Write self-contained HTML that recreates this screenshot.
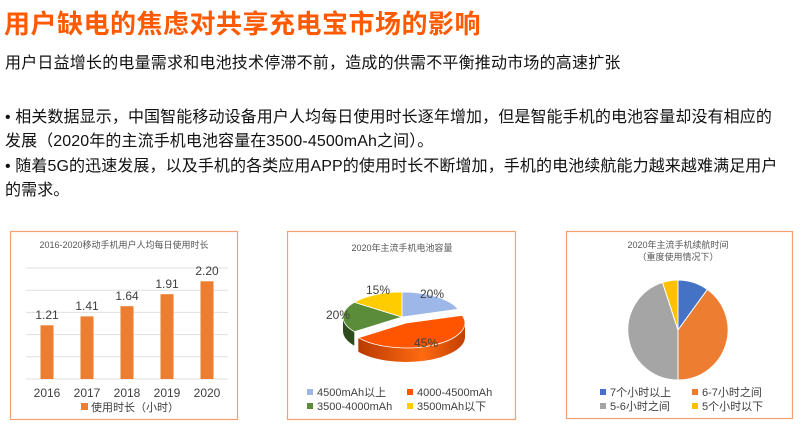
<!DOCTYPE html>
<html><head><meta charset="utf-8"><style>
body{margin:0;width:800px;height:428px;background:#fff;font-family:"Liberation Sans","Noto Sans CJK SC",sans-serif;position:relative;overflow:hidden}
.t{position:absolute;white-space:nowrap}
</style></head><body>
<div class="t" style="left:4px;top:4px;font-size:26px;font-weight:bold;color:#FF5A00;letter-spacing:0.5px">用户缺电的焦虑对共享充电宝市场的影响</div>
<div class="t" style="left:5px;top:49px;font-size:16px;color:#111;letter-spacing:0.2px">用户日益增长的电量需求和电池技术停滞不前，造成的供需不平衡推动市场的高速扩张</div>
<div class="t" style="left:5px;top:106px;font-size:16px;line-height:24.3px;color:#111;white-space:normal;width:795px;letter-spacing:0.1px">• 相关数据显示，中国智能移动设备用户人均每日使用时长逐年增加，但是智能手机的电池容量却没有相应的<br>发展（2020年的主流手机电池容量在3500-4500mAh之间）。<br>• 随着5G的迅速发展，以及手机的各类应用APP的使用时长不断增加，手机的电池续航能力越来越难满足用户<br>的需求。</div>
<svg width="800" height="428" style="position:absolute;left:0;top:0" font-family="Liberation Sans, Noto Sans CJK SC, sans-serif">
<g fill="none" stroke="#F4A070" stroke-width="1.2">
<rect x="10.5" y="231.5" width="227" height="188"/>
<rect x="287.5" y="231.5" width="228" height="188"/>
<rect x="566.5" y="231.5" width="226" height="187"/>
</g>
<text x="124" y="248" font-size="9" fill="#555" text-anchor="middle">2016-2020移动手机用户人均每日使用时长</text>
<g stroke="#e0e0e0" stroke-width="1">
<line x1="26" x2="228" y1="268" y2="268"/><line x1="26" x2="228" y1="290.2" y2="290.2"/><line x1="26" x2="228" y1="312.4" y2="312.4"/><line x1="26" x2="228" y1="334.6" y2="334.6"/><line x1="26" x2="228" y1="356.8" y2="356.8"/><line x1="26" x2="228" y1="379" y2="379"/></g>
<g fill="#ED7D31">
<rect x="40.5" y="325.3" width="13" height="53.7"/>
<rect x="80.5" y="316.4" width="13" height="62.6"/>
<rect x="120.5" y="306.2" width="13" height="72.8"/>
<rect x="160.5" y="294.2" width="13" height="84.8"/>
<rect x="200.5" y="281.3" width="13" height="97.7"/></g>
<g font-size="12" fill="#404040" text-anchor="middle">
<text x="47" y="319">1.21</text><text x="87" y="310">1.41</text><text x="127" y="300">1.64</text><text x="167" y="288">1.91</text><text x="207" y="275">2.20</text>
<text x="47" y="397">2016</text><text x="87" y="397">2017</text><text x="127" y="397">2018</text><text x="167" y="397">2019</text><text x="207" y="397">2020</text></g>
<rect x="81" y="403" width="7" height="7" fill="#ED7D31"/>
<text x="91" y="411" font-size="11" fill="#404040">使用时长（小时）</text>
<text x="402" y="251" font-size="9" fill="#555" text-anchor="middle">2020年主流手机电池容量</text>
<path d="M354.3,331.7 A59 25 0 0 1 343,317 L343,331 A59 25 0 0 0 354.3,345.7Z" fill="#2f4a1d"/>
<defs><linearGradient id="og" x1="0" x2="1"><stop offset="0" stop-color="#B83A00"/><stop offset="0.6" stop-color="#FF6A10"/><stop offset="1" stop-color="#C04000"/></linearGradient></defs>
<path d="M465,323 A59 25 0 0 1 358.3,337.7 L358.3,351.7 A59 25 0 0 0 465,337Z" fill="url(#og)"/>
<g stroke="#fff" stroke-width="0.8">
<path d="M402,317 L402,292 A59 25 0 0 1 458.1,309.3Z" fill="#9DB8E8"/>
<path d="M402,317 L354.3,331.7 A59 25 0 0 1 354.3,302.3Z" fill="#5B8C3A"/>
<path d="M402,317 L354.3,302.3 A59 25 0 0 1 402,292Z" fill="#FFCC00"/>
<path d="M406,323 L462.1,315.3 A59 25 0 0 1 358.3,337.7Z" fill="#FF5500"/></g>
<g font-size="12" fill="#404040" text-anchor="middle">
<text x="432" y="298">20%</text><text x="378" y="294">15%</text><text x="338" y="319">20%</text><text x="426" y="347">45%</text></g>
<g font-size="11" fill="#404040">
<rect x="307" y="389" width="6" height="6" fill="#9DB8E8"/><text x="317" y="396">4500mAh以上</text>
<rect x="407" y="389" width="6" height="6" fill="#FF5500"/><text x="417" y="396">4000-4500mAh</text>
<rect x="307" y="403" width="6" height="6" fill="#5B8C3A"/><text x="317" y="410">3500-4000mAh</text>
<rect x="407" y="403" width="6" height="6" fill="#FFCC00"/><text x="417" y="410">3500mAh以下</text></g>
<text x="678" y="248" font-size="9" fill="#555" text-anchor="middle">2020年主流手机续航时间</text>
<text x="678" y="260" font-size="9" fill="#555" text-anchor="middle">（重度使用情况下）</text>
<g stroke="#fff" stroke-width="1">
<path d="M678,330 L678,280 A50 50 0 0 1 707.4,289.5Z" fill="#4472C4"/>
<path d="M678,330 L707.4,289.5 A50 50 0 0 1 678,380Z" fill="#ED7D31"/>
<path d="M678,330 L678,380 A50 50 0 0 1 662.5,282.4Z" fill="#A5A5A5"/>
<path d="M678,330 L662.5,282.4 A50 50 0 0 1 678,280Z" fill="#FFC000"/></g>
<g font-size="11" fill="#404040">
<rect x="600" y="389" width="6" height="6" fill="#4472C4"/><text x="610" y="396">7个小时以上</text>
<rect x="692" y="389" width="6" height="6" fill="#ED7D31"/><text x="702" y="396">6-7小时之间</text>
<rect x="600" y="403" width="6" height="6" fill="#A5A5A5"/><text x="610" y="410">5-6小时之间</text>
<rect x="692" y="403" width="6" height="6" fill="#FFC000"/><text x="702" y="410">5个小时以下</text></g>
</svg>
</body></html>
